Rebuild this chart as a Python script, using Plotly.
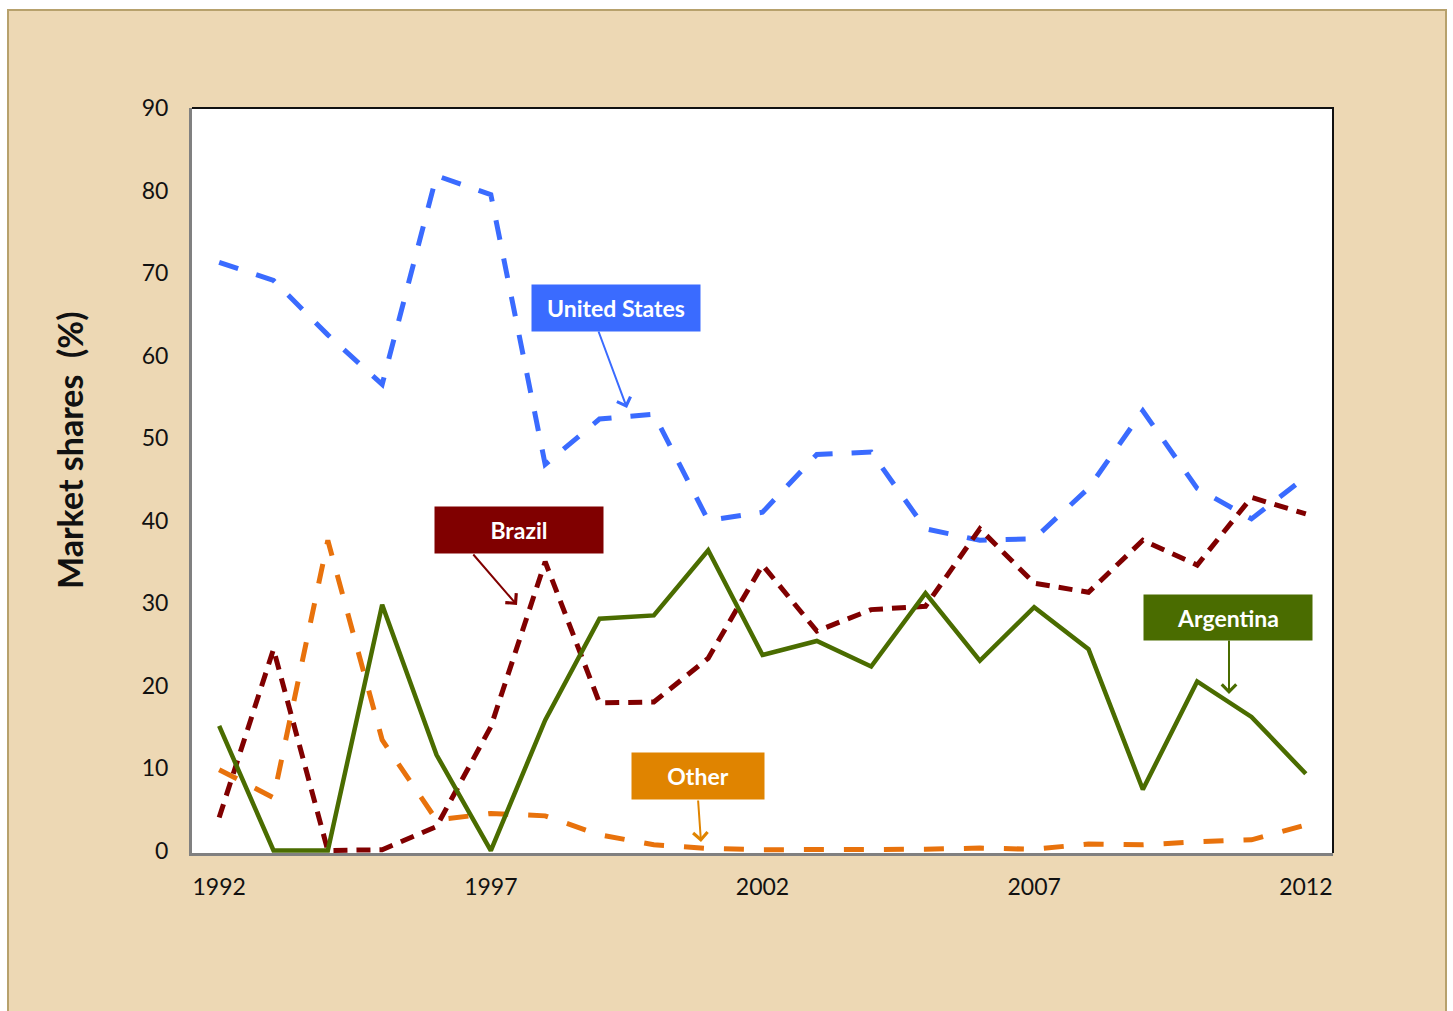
import plotly.graph_objects as go

# ---------------- data ----------------
years = list(range(1992, 2013))
united_states = [71.3, 69.1, 62.5, 56.5, 81.8, 79.5, 46.8, 52.3, 52.9, 40.0, 41.0,
                 48.0, 48.3, 39.0, 37.6, 37.8, 43.9, 53.3, 43.9, 40.2, 45.3]
brazil = [4.0, 24.4, 0.0, 0.1, 2.9, 15.0, 35.0, 17.9, 18.0, 23.3, 34.6,
          26.6, 29.2, 29.6, 39.0, 32.4, 31.3, 37.6, 34.6, 42.8, 40.8]
argentina = [15.1, 0.0, 0.0, 29.8, 11.6, 0.0, 15.8, 28.1, 28.5, 36.4, 23.7,
             25.4, 22.3, 31.2, 23.0, 29.5, 24.4, 7.4, 20.5, 16.2, 9.3]
other = [9.8, 6.4, 37.6, 13.4, 3.7, 4.5, 4.2, 1.9, 0.7, 0.25, 0.1,
         0.1, 0.15, 0.15, 0.3, 0.15, 0.8, 0.7, 1.05, 1.3, 3.1]
x_ticks = [1992, 1997, 2002, 2007, 2012]
y_ticks = list(range(0, 91, 10))

# ---------------- style ----------------
W, H = 1453, 1011
L, R, T, B = 192, 120, 108, 158
PW, PH = W - L - R, H - T - B
FONT = "Century Gothic, Lato, sans-serif"
C_US = "#3A6BFF"
C_BR = "#800000"
C_AR = "#4A6C00"
C_OT = "#E8720C"
C_LBL_OT = "#E08400"
TAN = "#EDD8B4"
TAN_BORDER = "#B7A16C"


def px_x(px):
    return (px - L) / PW


def px_y(py):
    return (T + PH - py) / PH


fig = go.Figure()
fig.add_trace(go.Scatter(x=years, y=other, mode="lines", name="Other",
                         line=dict(color=C_OT, width=5, dash="20px,20px")))
fig.add_trace(go.Scatter(x=years, y=united_states, mode="lines", name="United States",
                         line=dict(color=C_US, width=5, dash="20px,19px")))
fig.add_trace(go.Scatter(x=years, y=brazil, mode="lines", name="Brazil",
                         line=dict(color=C_BR, width=5, dash="14px,9px")))
fig.add_trace(go.Scatter(x=years, y=argentina, mode="lines", name="Argentina",
                         line=dict(color=C_AR, width=4.5)))

# label boxes: (text, center px x, center px y, width, height, color)
labels = [
    ("United States", 616, 308, 168, 46, C_US),
    ("Brazil", 519, 530, 168, 46, C_BR),
    ("Argentina", 1228, 617, 168, 45, C_AR),
    ("Other", 698, 776, 132, 46, C_LBL_OT),
]
# arrows: (tail px, head px, color)
arrows = [
    ((598, 330), (627, 408), C_US),
    ((472, 553), (517, 605), C_BR),
    ((1229, 639), (1229, 694), C_AR),
    ((698, 799), (701, 842), C_LBL_OT),
]

annotations = []
for (tail, head, col) in arrows:
    annotations.append(dict(
        x=px_x(head[0]), y=px_y(head[1]), xref="paper", yref="paper",
        ax=tail[0] - head[0], ay=tail[1] - head[1], axref="pixel", ayref="pixel",
        text="", showarrow=True, arrowhead=4, arrowsize=1.4, arrowwidth=2,
        arrowcolor=col, standoff=0, startstandoff=0))
for (txt, cx, cy, w, h, col) in labels:
    annotations.append(dict(
        x=px_x(cx), y=px_y(cy), xref="paper", yref="paper",
        xanchor="center", yanchor="middle", showarrow=False,
        text="<b>%s</b>" % txt, width=w, height=h, bgcolor=col, borderpad=0,
        font=dict(family=FONT, size=23, color="white")))

annotations.append(dict(
    x=px_x(70), y=px_y(450), xref="paper", yref="paper", showarrow=False,
    text="<b>Market shares\u00a0 (%)</b>", textangle=-90,
    xanchor="center", yanchor="middle",
    font=dict(family=FONT, size=34, color="#111111")))

shapes = [
    # white page outside the tan panel
    dict(type="rect", xref="paper", yref="paper", layer="above",
         x0=px_x(-5), x1=px_x(W + 5), y0=px_y(9), y1=px_y(-5),
         fillcolor="white", line=dict(width=0)),
    dict(type="rect", xref="paper", yref="paper", layer="above",
         x0=px_x(-5), x1=px_x(7), y0=px_y(H + 5), y1=px_y(-5),
         fillcolor="white", line=dict(width=0)),
    dict(type="rect", xref="paper", yref="paper", layer="above",
         x0=px_x(1447), x1=px_x(W + 5), y0=px_y(H + 5), y1=px_y(-5),
         fillcolor="white", line=dict(width=0)),
    # panel border
    dict(type="path", xref="paper", yref="paper", layer="above",
         path="M %f,%f L %f,%f L %f,%f L %f,%f" % (
             px_x(8), px_y(H + 5), px_x(8), px_y(10),
             px_x(1446), px_y(10), px_x(1446), px_y(H + 5)),
         line=dict(color=TAN_BORDER, width=2)),
    # top & right plot frame
    dict(type="path", xref="paper", yref="paper", layer="above",
         path="M 0,1 L 1,1 L 1,0",
         line=dict(color="#111111", width=2)),
]

fig.update_layout(
    width=W, height=H,
    margin=dict(l=L, r=R, t=T, b=B, pad=0),
    paper_bgcolor=TAN, plot_bgcolor="white",
    showlegend=False,
    font=dict(family=FONT, color="#111111"),
    annotations=annotations,
    shapes=shapes,
    xaxis=dict(range=[1991.5, 2012.5], tickmode="array", tickvals=x_ticks,
               ticktext=[str(v) for v in x_ticks],
               showgrid=False, zeroline=False,
               showline=True, linecolor="#808080", linewidth=3,
               ticks="outside", ticklen=11, tickcolor="rgba(0,0,0,0)",
               tickfont=dict(family=FONT, size=23, color="#111111")),
    yaxis=dict(range=[-0.3, 90], tickmode="array", tickvals=y_ticks,
               showgrid=False, zeroline=False,
               showline=True, linecolor="#808080", linewidth=3,
               ticks="outside", ticklen=16, tickcolor="rgba(0,0,0,0)",
               tickfont=dict(family=FONT, size=23, color="#111111")),
)

fig.write_html("out.html")
